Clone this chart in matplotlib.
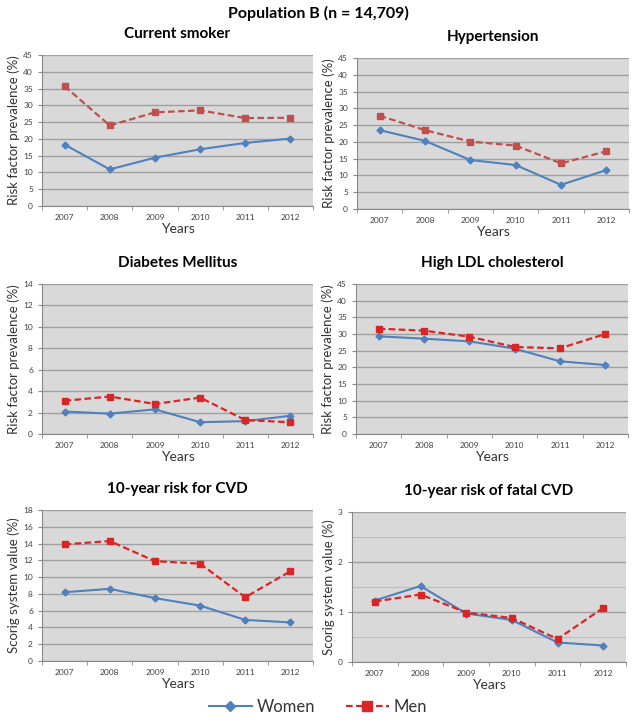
import numpy as np
import matplotlib.pyplot as plt
from matplotlib.ticker import MultipleLocator

plt.rcParams['font.family'] = ['Lato', 'DejaVu Sans']

years = ['2007', '2008', '2009', '2010', '2011', '2012']

smoker_women = [18.3, 10.9, 14.4, 16.9, 18.8, 20.1]
smoker_men = [35.7, 24.0, 27.9, 28.5, 26.2, 26.3]
hyper_women = [23.5, 20.3, 14.6, 13.1, 7.2, 11.6]
hyper_men = [27.8, 23.5, 20.1, 18.9, 13.6, 17.2]
diab_women = [2.1, 1.9, 2.3, 1.1, 1.2, 1.7]
diab_men = [3.1, 3.5, 2.8, 3.4, 1.3, 1.1]
ldl_women = [29.3, 28.6, 27.8, 25.6, 21.8, 20.7]
ldl_men = [31.6, 31.0, 29.2, 26.1, 25.7, 30.0]
cvd_women = [8.2, 8.6, 7.5, 6.6, 4.9, 4.6]
cvd_men = [13.9, 14.3, 11.9, 11.6, 7.6, 10.7]
fatal_women = [1.23, 1.52, 0.97, 0.84, 0.39, 0.33]
fatal_men = [1.21, 1.35, 0.99, 0.88, 0.46, 1.08]

W, H = 636, 722
fig = plt.figure(figsize=(W/100, H/100), dpi=100)

def px(l, t, r, b):
    return [l/W, 1 - b/H, (r-l)/W, (b-t)/H]

# (title, women, men, ymax, ystep, ylabel, box in pixels, men colour)
panels = [
    ('Current smoker', smoker_women, smoker_men, 45, 5, 'Risk factor prevalence (%)', (42, 55, 313, 206), '#C0504D'),
    ('Hypertension', hyper_women, hyper_men, 45, 5, 'Risk factor prevalence (%)', (357, 58, 629, 209), '#C0504D'),
    ('Diabetes Mellitus', diab_women, diab_men, 14, 2, 'Risk factor prevalence (%)', (42, 284, 313, 434), '#D92525'),
    ('High LDL cholesterol', ldl_women, ldl_men, 45, 5, 'Risk factor prevalence (%)', (356, 284, 628, 434), '#D92525'),
    ('10-year risk for CVD', cvd_women, cvd_men, 18, 2, 'Scorig system value (%)', (42, 510, 313, 661), '#D92525'),
    ('10-year risk of fatal CVD', fatal_women, fatal_men, 3, 1, 'Scorig system value (%)', (352, 512, 626, 662), '#D92525'),
]

x = np.arange(len(years))
for title, w, m, ymax, step, ylab, box, mcol in panels:
    ax = fig.add_axes(px(*box))
    ax.set_facecolor('#D9D9D9')
    ax.plot(x, w, color='#4F81BD', lw=1.5, marker='D', ms=3.5, label='Women')
    ax.plot(x, m, color=mcol, lw=1.6, ls=(0, (3, 1.5)), marker='s', ms=5, label='Men')
    ax.set_xlim(-0.5, 5.5)
    ax.set_ylim(0, ymax)
    ax.yaxis.set_major_locator(MultipleLocator(step))
    ax.set_xticks(x)
    ax.set_xticklabels(years)
    ax.set_xticks(np.arange(-0.5, 6, 1), minor=True)
    ax.grid(axis='y', which='major', color='#A0A0A0', lw=1.0)
    if ymax == 3:
        ax.yaxis.set_minor_locator(MultipleLocator(0.5))
        ax.grid(axis='y', which='minor', color='#BDBDBD', lw=0.8)
        ax.tick_params(axis='y', which='minor', length=0)
    ax.set_axisbelow(True)
    ax.tick_params(axis='x', which='major', length=0, labelsize=6, colors='#404040', pad=6)
    ax.tick_params(axis='x', which='minor', length=3, color='#888888', direction='out')
    ax.tick_params(axis='y', which='major', length=3, labelsize=6, colors='#404040', direction='out')
    ax.tick_params(axis='y', which='major', color='#888888')
    for s in ['top', 'right']:
        ax.spines[s].set_visible(False)
    for s in ['left', 'bottom']:
        ax.spines[s].set_color('#888888')
        ax.spines[s].set_linewidth(0.8)
    ax.set_title(title, fontsize=11, fontweight='bold', pad=12)
    ax.set_xlabel('Years', fontsize=10, color='#333333', labelpad=1)
    ax.set_ylabel(ylab, fontsize=9.5, color='#333333', labelpad=2)
    handles, labels = ax.get_legend_handles_labels()

fig.text(0.5, 1 - 13/H, 'Population B (n = 14,709)', ha='center', va='center',
         fontsize=11.5, fontweight='bold')
leg = fig.legend(handles, labels, loc='center', bbox_to_anchor=(0.5, 1 - 707/H), ncol=2,
                 frameon=False, fontsize=12, handlelength=2.6, handletextpad=0.3,
                 columnspacing=1.8, markerscale=1.4)
for t in leg.get_texts():
    t.set_color('#333333')

fig.savefig('out.png', dpi=100)
